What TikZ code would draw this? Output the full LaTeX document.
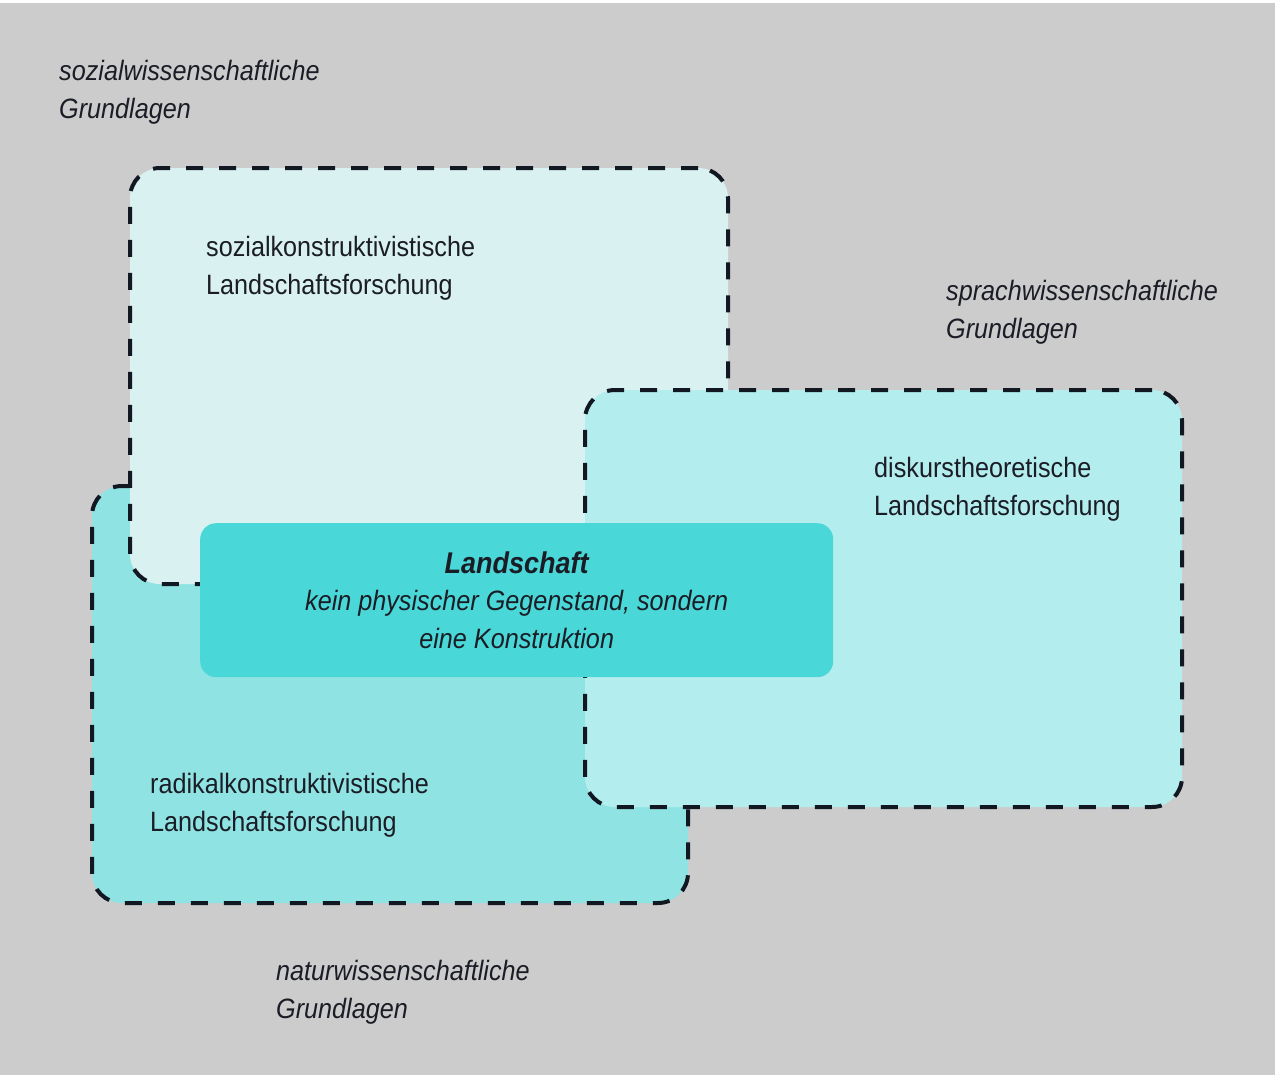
\documentclass[tikz,border=0pt]{standalone}
\usepackage{fontspec}
\setmainfont{Liberation Sans}[FakeStretch=0.9]
\definecolor{bgc}{HTML}{CCCCCC}
\definecolor{sozc}{HTML}{DAF1F2}
\definecolor{radc}{HTML}{90E3E3}
\definecolor{disc}{HTML}{B4EDED}
\definecolor{corec}{HTML}{4AD7D7}
\definecolor{linec}{HTML}{121821}
\definecolor{txtc}{HTML}{1B1D26}
\begin{document}
\begin{tikzpicture}[x=1bp,y=-1bp,
  dashbox/.style={draw=linec, line width=4bp, dash pattern=on 17bp off 16bp,
    rounded corners=30bp, inner sep=0pt, anchor=north west},
  lbl/.style={anchor=base west, align=left, inner sep=0pt, text=txtc,
    font=\fontsize{28bp}{37.5bp}\selectfont},
  corebox/.style={fill=corec, rounded corners=16bp, inner sep=0pt, anchor=north west,
    align=center, text=txtc, font=\fontsize{28bp}{37.5bp}\selectfont\itshape}]
\useasboundingbox (0,0) rectangle (1279,1075);
\fill[white] (0,0) rectangle (1279,1075);
\fill[bgc] (0,3) rectangle (1275,1075);
% boxes
\node[dashbox, fill=radc, minimum width=596bp, minimum height=417bp] (radikal) at (90,484) {};
\node[dashbox, fill=sozc, minimum width=598bp, minimum height=416bp] (sozial) at (128,166) {};
\node[dashbox, fill=disc, minimum width=597bp, minimum height=417bp] (diskurs) at (583,388) {};
\node[corebox, minimum width=633bp, minimum height=154bp] (core) at (200,523)
  {{\fontsize{30bp}{37.5bp}\selectfont\bfseries Landschaft}\\kein physischer Gegenstand, sondern\\eine Konstruktion};
% labels (anchor = baseline of last line)
\node[lbl] (sozwiss) at (59,118) {\itshape sozialwissenschaftliche\\\itshape Grundlagen};
\node[lbl] (sozkon) at (206,294) {sozialkonstruktivistische\\Landschaftsforschung};
\node[lbl] (sprwiss) at (946,338) {\itshape sprachwissenschaftliche\\\itshape Grundlagen};
\node[lbl] (diskth) at (874,515) {diskurstheoretische\\Landschaftsforschung};
\node[lbl] (radkon) at (150,831) {radikalkonstruktivistische\\Landschaftsforschung};
\node[lbl] (natwiss) at (276,1018) {\itshape naturwissenschaftliche\\\itshape Grundlagen};
\end{tikzpicture}
\end{document}
